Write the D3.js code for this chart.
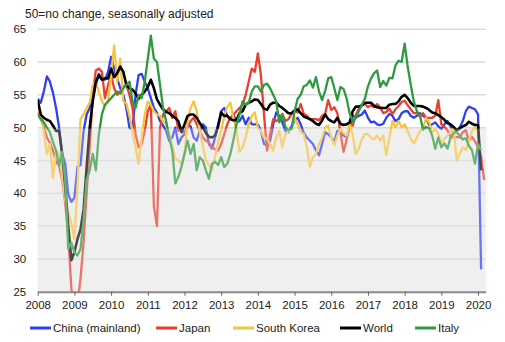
<!DOCTYPE html>
<html><head><meta charset="utf-8">
<script src="https://cdn.jsdelivr.net/npm/d3@7"></script>
<style>
html,body{margin:0;padding:0;background:#fff;}
svg{display:block;font-family:"Liberation Sans",Arial,sans-serif;}
</style></head>
<body>
<svg id="c" width="505" height="342"></svg>
<script>
const title = "50=no change, seasonally adjusted";
const years = ["2008","2009","2010","2011","2012","2013","2014","2015","2016","2017","2018","2019","2020"];
const yTicks = [25,30,35,40,45,50,55,60,65];
const seriesNames = ["China (mainland)","Japan","South Korea","World","Italy"];
const seriesColors = ["#2f3ff2","#ea3f2e","#f6c53f","#000000","#2f9a3f"];

// monthly values, Jan 2008 onwards
const china = [
54.4,53.8,55.5,57.8,57,55.3,53,50,46,44.5,
39.8,38.7,39.3,44,44.3,49.5,52,53,54.5,56.5,
58.2,57.5,57.3,58.5,60.8,59,57.5,56,55,53,
50,49.7,55,58,58.2,57,56,54.5,53,52.3,
51,50.3,49.5,48,48.5,50,47.5,48.5,49,50.5,
50.2,48.5,48,49.5,50.5,50,47.5,46.8,48.5,50.5,
52.5,53,51.8,51.3,52,50.8,51,51.8,50.5,51.5,
50.5,50.5,50.5,49.5,47.5,47.3,48,50.5,52.3,51.8,
50.8,49.5,49.3,50.2,51,51.5,50.5,49.2,48.5,48,
47.5,46.5,45.8,47.5,49.3,49,48.5,47.8,49.5,49.3,
48.8,48.6,50,51.9,51.5,51.8,52,52.6,51.5,50.8,
50.9,50.5,50.4,50.6,51.5,52.1,51.8,51,51.3,52.2,
52.5,52.5,51.8,51.5,51.8,52.2,51.8,51.5,50.4,50.5,
50.8,50.2,49.8,50.5,51,50.2,49.5,49.6,50,51,
52.5,53.2,53,52.8,52,28.4];
const japan = [
52.4,51.5,50,48.5,47.7,46.5,44.8,44.2,42,38.5,
33.5,25.5,22.5,23,27,32.5,40,47,55,58.7,
59,58.5,54.5,56.5,58,56,55,55.5,56.3,56.5,
55,53,49,47,47.5,49.5,52.5,53.5,38,35,
50,52,52.5,53,51.5,52.5,49.5,50,49,50,
51,51.5,50.5,49.5,48.5,48,47.8,47,46.7,46.5,
47.5,49,50.5,51.5,52,52.5,53,53.5,55,57,
59,58.5,61.3,58,52,46.5,49,51.3,51,51.3,
52.1,51,51.3,52.1,52.6,52.3,53.6,52.1,51.8,51.3,
51.3,51.3,51.1,51.8,52.1,54.2,52.7,53.1,52.2,49.3,
46.3,48.1,50.4,50.3,51.9,52.9,53.4,53.6,53.1,53.4,
53.1,53.6,53.1,52.2,52.4,52.9,52.1,52.8,53.3,53.9,
54.1,53.4,52.8,52.2,52.2,51.7,52.2,51.5,51.5,51.5,
51.8,54.2,50.5,50.1,49.6,48.6,48.5,48.6,48.5,49.3,
49.6,48,48.6,47.9,47.1,45.6,42];
const korea = [
53,52,49.5,46,47.5,42.3,46.5,46,42.5,39,
37,35.5,33,41,51.3,52,53,53.8,56.5,57,
55.5,54,53.3,54,58,62.5,57,60.5,54,53.7,
51.8,49.5,47,44.5,48.5,52,54,53.5,52.5,52,
51.8,51,50.5,49,47.2,45.3,45,44.5,46,51,
53,54,52.5,49.5,47.2,45,44.3,43.5,45.5,47.8,
49.5,51.8,53.2,53.8,51.5,49.5,46.3,47,48.5,50.5,
51.8,52.3,50,49.5,48.5,48.3,47.5,46.5,48.5,49.5,
47,49,49.5,49.8,51.5,50.5,49.3,49,47,44,
45.5,46,47.5,48.5,50,50.3,48.5,47.3,48.8,49.8,
49.2,48.8,50.5,49,46,46.8,48.2,49,49,48.5,
48.2,48.8,48,48.8,45.8,48.5,51,50,51,50,
50.5,49.5,48.3,47.6,48.5,49.5,49.9,51.5,50.8,49.3,
49.8,49,47.6,48.3,48.8,49.3,50,45,46,47,
46.6,48,49.5,50,49.5];
const world = [
54.2,52,51.5,51.2,51,50.3,49.5,49.5,46,41,
35,29.8,31,33,34.5,37.5,44,50,54,57,
58,57.3,57.5,57.5,59,57.7,58.3,59.3,58.5,56.5,
56,55.8,55.2,54.4,55,55.5,56.2,57.3,56,54.3,
53.5,52.8,52.4,52.2,51.8,51.5,51,49.3,50.5,51.8,
52,52,51.5,50.7,50,49.2,48.6,48.5,48.8,50.2,
52.3,51.8,51.8,51.3,51.1,51.2,52.2,52.5,53.5,53.8,
54,54.3,54.2,53.6,52.9,52.7,53.5,53.8,53.8,53.3,
53,52.6,52.2,52.2,52.6,52.8,52.2,51.7,51.5,51.3,
51,50.6,50.4,51.1,52,51.3,51,50.8,51.5,50.6,
50.4,50.5,50.8,52.5,53.2,53.2,53.4,53.8,53.8,53.8,
53.3,53.1,53,53,53,53.5,53.6,53.6,54,54.7,
55,54.5,53.8,53.3,53.3,53.3,53.2,53,52.7,52.3,
52.2,51.9,51.6,51.2,50.7,50.5,50.1,49.6,49.9,50.2,
50.4,50.9,50.6,50.4,50.4,43.5];
const italy = [
52,51.3,50.8,50,49.3,47.8,46.5,44.2,46.3,42,
31.5,32.5,31,30.5,31.5,36,42,43.5,46,43.5,
49,52,53.5,54,54.5,55,55.5,55.2,56,56.5,
57,54,53,55,54.5,57,60.5,64,60.5,60,
56.5,53,51,48.5,46.5,41.5,42.5,44,46,48,
46,47.5,43.5,45.5,45,43.5,42.2,44.5,44.8,44.3,
45.5,44,44.5,46,48.1,50.5,52,54,53.5,53.8,
55.5,56.3,56.3,55.5,56.5,56.7,56,55,54,50.8,
52,50.1,49.6,49.8,52.5,54.4,55,56.3,56.5,57.2,
56.1,57.7,55.5,54.2,55.6,57.5,57.7,56,54.2,56.2,
55.9,54.5,52.2,50.9,51.5,52.5,53.5,54.4,56.3,57.5,
58.3,58.7,56.2,57.1,56.4,57.6,57.5,59.5,60.2,60,
62.8,59.3,56.5,54,52.5,51.8,49.7,50.1,49.9,48.8,
46.8,48.5,47,47.6,46.8,48.5,49.2,49.3,48.8,48.2,
48.4,47.2,46.6,44.5,47.5,46.5];

const allSeries = [china, japan, korea, world, italy];

const svg = d3.select("#c");
const x = d3.scaleLinear().domain([0, 146.5]).range([37.7, 485.7]);
const y = d3.scaleLinear().domain([25, 65]).range([291.7, 29.2]);

// title
svg.append("text").attr("x", 25).attr("y", 18).attr("font-size", 12).attr("fill", "#222").text(title);

// shaded contraction zone
svg.append("rect").attr("x", x(0)).attr("y", y(50)).attr("width", x(146.5) - x(0)).attr("height", y(25) - y(50)).attr("fill", "#f0f0f0");

// gridlines
svg.append("g").selectAll("line").data(yTicks.filter(v => v > 25)).join("line")
  .attr("x1", x(0)).attr("x2", x(146.5)).attr("y1", d => y(d)).attr("y2", d => y(d))
  .attr("stroke", "#d9d9d9").attr("stroke-width", 1.5);

// clip
svg.append("clipPath").attr("id", "clip").append("rect")
  .attr("x", x(0)).attr("y", y(65) - 5).attr("width", x(146.5) - x(0) + 2).attr("height", y(25) - y(65) + 5);

const line = d3.line().x((d, i) => x(i)).y(d => y(d));
const lg = svg.append("g").attr("clip-path", "url(#clip)");
allSeries.forEach((s, k) => {
  lg.append("path").datum(s).attr("d", line).attr("fill", "none")
    .attr("stroke", seriesColors[k]).attr("stroke-width", k === 3 ? 2.6 : 2.3)
    .attr("stroke-linejoin", "round");
});

// fade overlay below 50
svg.append("rect").attr("x", x(0)).attr("y", y(50) + 1).attr("width", x(146.5) - x(0) + 2).attr("height", y(25) - y(50) - 1).attr("fill", "#f0f0f0").attr("opacity", 0.3);

// x axis
const xAxis = d3.axisBottom(x).tickValues(years.map((d, i) => i * 12)).tickFormat((d, i) => years[i]).tickSize(4).tickSizeOuter(0).tickPadding(5);
const gx = svg.append("g").attr("transform", `translate(0,${y(25)})`).call(xAxis);
gx.select(".domain").attr("stroke", "#8a8a8a").attr("stroke-width", 2);
gx.selectAll(".tick line").attr("stroke", "#666").attr("stroke-width", 1);
gx.selectAll("text").attr("font-size", 11.5).attr("fill", "#222").attr("font-family", "Liberation Sans, Arial, sans-serif");

// y axis labels
const yAxis = d3.axisLeft(y).tickValues(yTicks).tickSize(0).tickPadding(11.5);
const gy = svg.append("g").attr("transform", `translate(${x(0)},0)`).call(yAxis);
gy.select(".domain").remove();
gy.selectAll("text").attr("font-size", 11.5).attr("fill", "#222").attr("font-family", "Liberation Sans, Arial, sans-serif");

// legend
const legX = [30, 156, 233, 340, 415];
const legG = svg.append("g");
seriesNames.forEach((n, k) => {
  legG.append("line").attr("x1", legX[k]).attr("x2", legX[k] + 21).attr("y1", 328).attr("y2", 328)
    .attr("stroke", seriesColors[k]).attr("stroke-width", 3);
  legG.append("text").attr("x", legX[k] + 23).attr("y", 332).attr("font-size", 11.5).attr("fill", "#222").text(n);
});
</script>
</body></html>
